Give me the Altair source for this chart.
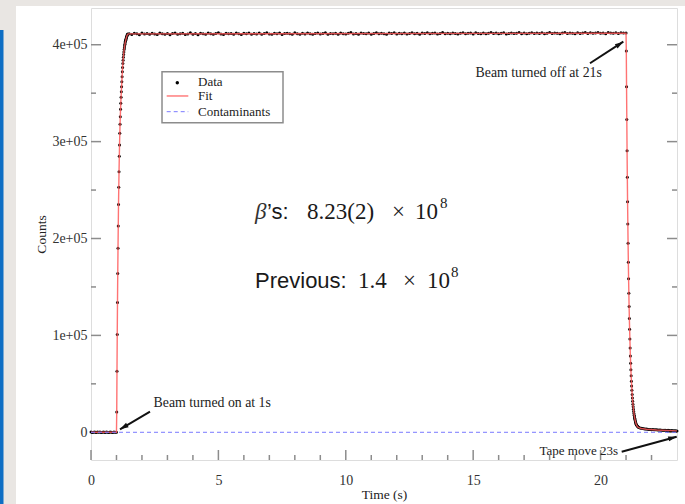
import altair as alt
import pandas as pd

# ---------------------------------------------------------------
# Counts per time bin for one beam-on / beam-off cycle
# ---------------------------------------------------------------
base_time = [0.0, 0.05, 0.1, 0.15, 0.2, 0.25, 0.3, 0.35, 0.4, 0.45, 0.5,
             0.55, 0.6, 0.65, 0.7, 0.75, 0.8, 0.85, 0.9, 0.95, 1.0]
base_counts = [300, -200, 100, 400, -100, 200, 0, 300, -300, 100, 200,
               -100, 400, 0, -200, 300, 100, -100, 200, 0, 100]

rise_time = [1.01, 1.02, 1.03, 1.04, 1.05, 1.06, 1.07, 1.08, 1.09, 1.10,
             1.11, 1.12, 1.13, 1.14, 1.15, 1.16, 1.17, 1.18, 1.19, 1.20,
             1.21, 1.22, 1.23, 1.24, 1.25, 1.26, 1.27, 1.28, 1.29, 1.30,
             1.31, 1.32, 1.33, 1.34, 1.35, 1.36, 1.37, 1.38, 1.39, 1.40,
             1.41, 1.42, 1.43, 1.44]
rise_counts = [21000, 63000, 101000, 134000, 164000, 190000, 213000, 235000, 253000, 269000,
               285000, 296500, 308600, 318000, 325700, 333300, 339500, 345700, 351500, 356700,
               361800, 367000, 372000, 376500, 380500, 384000, 387000, 390000, 392500, 395000,
               397000, 399000, 400500, 402000, 403500, 404500, 405500, 406500, 407500, 408500,
               409000, 410000, 410500, 411000]

plateau_time = [1.5, 1.6, 1.7, 1.8, 1.9, 2.0, 2.1, 2.2, 2.3, 2.4,
                2.5, 2.6, 2.7, 2.8, 2.9, 3.0, 3.1, 3.2, 3.3, 3.4,
                3.5, 3.6, 3.7, 3.8, 3.9, 4.0, 4.1, 4.2, 4.3, 4.4,
                4.5, 4.6, 4.7, 4.8, 4.9, 5.0, 5.1, 5.2, 5.3, 5.4,
                5.5, 5.6, 5.7, 5.8, 5.9, 6.0, 6.1, 6.2, 6.3, 6.4,
                6.5, 6.6, 6.7, 6.8, 6.9, 7.0, 7.1, 7.2, 7.3, 7.4,
                7.5, 7.6, 7.7, 7.8, 7.9, 8.0, 8.1, 8.2, 8.3, 8.4,
                8.5, 8.6, 8.7, 8.8, 8.9, 9.0, 9.1, 9.2, 9.3, 9.4,
                9.5, 9.6, 9.7, 9.8, 9.9, 10.0, 10.1, 10.2, 10.3, 10.4,
                10.5, 10.6, 10.7, 10.8, 10.9, 11.0, 11.1, 11.2, 11.3, 11.4,
                11.5, 11.6, 11.7, 11.8, 11.9, 12.0, 12.1, 12.2, 12.3, 12.4,
                12.5, 12.6, 12.7, 12.8, 12.9, 13.0, 13.1, 13.2, 13.3, 13.4,
                13.5, 13.6, 13.7, 13.8, 13.9, 14.0, 14.1, 14.2, 14.3, 14.4,
                14.5, 14.6, 14.7, 14.8, 14.9, 15.0, 15.1, 15.2, 15.3, 15.4,
                15.5, 15.6, 15.7, 15.8, 15.9, 16.0, 16.1, 16.2, 16.3, 16.4,
                16.5, 16.6, 16.7, 16.8, 16.9, 17.0, 17.1, 17.2, 17.3, 17.4,
                17.5, 17.6, 17.7, 17.8, 17.9, 18.0, 18.1, 18.2, 18.3, 18.4,
                18.5, 18.6, 18.7, 18.8, 18.9, 19.0, 19.1, 19.2, 19.3, 19.4,
                19.5, 19.6, 19.7, 19.8, 19.9, 20.0, 20.1, 20.2, 20.3, 20.4,
                20.5, 20.6, 20.7, 20.8, 20.9]
plateau_counts = [411300, 410600, 411900, 411200, 410400, 412100, 411000, 411600, 410700, 411800,
                  411100, 410500, 412000, 411400, 410900, 411700, 410300, 411500, 412200, 410800,
                  411300, 411900, 410600, 411100, 412300, 410900, 411500, 410400, 411800, 411200,
                  410700, 412000, 411400, 410900, 411600, 412400, 411000, 410500, 411900, 411300,
                  411700, 410800, 412100, 411200, 410600, 411800, 411400, 412200, 410900, 411500,
                  411100, 412000, 410700, 411600, 412300, 411000, 410800, 411900, 411300, 412100,
                  410600, 411500, 411900, 411200, 410900, 412400, 411400, 410700, 411800, 411100,
                  412000, 411300, 410800, 411700, 412200, 411000, 411500, 412300, 410900, 411600,
                  411200, 411900, 410700, 412100, 411400, 411000, 411800, 412500, 411100, 411600,
                  410900, 412200, 411500, 411300, 412000, 410800, 411700, 412300, 411200, 411900,
                  411400, 410900, 412100, 411600, 412400, 411100, 411800, 411300, 412200, 411000,
                  411700, 412300, 411200, 411900, 410900, 412000, 411500, 412400, 411300, 411800,
                  412100, 411000, 411600, 412500, 411400, 411900, 411200, 412200, 411700, 411100,
                  411800, 412400, 411300, 411900, 412100, 411000, 412300, 411600, 411400, 412000,
                  411200, 411800, 412500, 411500, 412100, 411300, 411900, 412400, 411100, 411700,
                  412200, 411600, 411900, 412600, 411400, 412000, 411200, 411800, 412300, 411500,
                  412100, 411700, 412400, 411300, 411900, 412600, 411500, 412200, 411800, 411400,
                  412000, 412500, 411600, 412200, 411900, 411300, 412400, 411700, 412100, 412700,
                  411500, 412300, 411900, 412000, 412600, 411800, 412200, 411400, 412500, 412100,
                  411900, 412400, 411700, 412300, 412000]

fall_time = [21.0, 21.01, 21.02, 21.03, 21.04, 21.05, 21.06, 21.07, 21.08, 21.09,
             21.10, 21.11, 21.12, 21.13, 21.14, 21.15, 21.16, 21.17, 21.18, 21.19,
             21.20, 21.21, 21.22, 21.23, 21.24, 21.25, 21.26, 21.27, 21.28, 21.29,
             21.30, 21.31, 21.32, 21.33, 21.34, 21.35, 21.36, 21.37, 21.38, 21.39,
             21.40]
fall_counts = [412000, 393500, 356700, 322800, 290600, 263200, 238000, 215000, 195000, 175400,
               158500, 143400, 129800, 117400, 106300, 96200, 87000, 78800, 71300, 64500,
               58400, 52800, 47800, 43300, 39100, 35400, 32100, 29000, 26300, 23800,
               21500, 19500, 17600, 16000, 14500, 13100, 11900, 10800, 9800, 8900,
               8100]

tail_time = [21.42, 21.44, 21.46, 21.48, 21.5, 21.55, 21.6, 21.65, 21.7, 21.75,
             21.8, 21.85, 21.9, 21.95, 22.0, 22.05, 22.1, 22.15, 22.2, 22.25,
             22.3, 22.35, 22.4, 22.45, 22.5, 22.55, 22.6, 22.65, 22.7, 22.75,
             22.8, 22.85, 22.9, 22.95, 23.0]
tail_counts = [7200, 6500, 5900, 5400, 5000, 4500, 4100, 3900, 3600, 3400,
               3300, 3100, 3000, 2900, 2700, 2800, 2600, 2500, 2600, 2400,
               2300, 2400, 2200, 2100, 2200, 2000, 1900, 2000, 1800, 1700,
               1800, 1600, 1500, 1600, 1400]

# Fitted activity curve
fit_time = [0.0, 1.0, 1.01, 1.02, 1.03, 1.04, 1.05, 1.06, 1.08, 1.10,
            1.12, 1.14, 1.16, 1.18, 1.20, 1.23, 1.26, 1.30, 1.34, 1.38,
            1.42, 1.46, 21.0, 21.01, 21.02, 21.03, 21.04, 21.06, 21.08, 21.10,
            21.12, 21.14, 21.17, 21.20, 21.24, 21.28, 21.32, 21.36, 21.40, 21.45,
            21.5, 21.6, 21.8, 22.2, 23.0]
fit_counts = [0, 0, 21000, 63000, 101000, 134000, 164000, 190000, 235000, 269000,
              296500, 318000, 333300, 345700, 356700, 372000, 384000, 395000, 402000, 406500,
              410000, 411200, 411900, 393500, 356700, 322800, 290600, 238000, 195000, 158500,
              129800, 106300, 78800, 58400, 39100, 26300, 17600, 11900, 8100, 5700,
              4800, 3900, 3100, 2400, 1500]

# Contaminant component (flat at zero)
contam_time = [0.0, 23.0]
contam_counts = [0, 0]

# Axis tick values
x_major = [0, 5, 10, 15, 20]
x_minor = [1, 2, 3, 4, 6, 7, 8, 9, 11, 12, 13, 14, 16, 17, 18, 19, 21, 22]
y_major = [0, 100000, 200000, 300000, 400000]
y_minor = [50000, 150000, 250000, 350000]

# ---------------------------------------------------------------
# Layout and style
# ---------------------------------------------------------------
W, H = 586, 452
SERIF = "Liberation Serif"
SANS = "Liberation Sans"
FRAME = "#8c8c8c"
INK = "#222222"
XS = alt.Scale(domain=[0, 23], nice=False, zero=False)
YS = alt.Scale(domain=[-28600, 437900], nice=False, zero=False)

XAX = alt.Axis(values=x_major, title="Time (s)", ticks=False, domain=False, grid=False,
               labelFont=SERIF, labelFontSize=14, labelColor="#333333", labelPadding=13,
               labelFlush=False, labelOverlap=False,
               titleFont=SERIF, titleFontSize=13.5, titleFontWeight="normal", titleColor=INK,
               titleY=34, titleBaseline="middle")
YAX = alt.Axis(values=y_major, title="Counts", ticks=False, domain=False, grid=False,
               labelExpr="datum.value == 0 ? '0' : replace(format(datum.value, '.0e'), 'e+', 'e+0')",
               labelFont=SERIF, labelFontSize=14, labelColor="#333333", labelPadding=4,
               labelOverlap=False,
               titleFont=SERIF, titleFontSize=13.5, titleFontWeight="normal", titleColor=INK,
               titleAngle=270, titleX=-50, titleY=226, titleAlign="center",
               titleBaseline="middle")


def xq(field):
    return alt.X(field, type="quantitative", scale=XS, axis=XAX)


def yq(field):
    return alt.Y(field, type="quantitative", scale=YS, axis=YAX)


def segment(times, counts):
    return pd.DataFrame({"time": times, "counts": counts})


points = pd.concat([segment(base_time, base_counts),
                    segment(rise_time, rise_counts),
                    segment(plateau_time, plateau_counts),
                    segment(fall_time, fall_counts),
                    segment(tail_time, tail_counts)], ignore_index=True)
fit = segment(fit_time, fit_counts)
contam = segment(contam_time, contam_counts)
one = pd.DataFrame({"k": [0]})

# Slide backdrop outside the figure (gray margin and blue side bar)
backdrop = [
    alt.Chart(one).mark_rect(color="#e9e6e3").encode(
        x=alt.value(-91), x2=alt.value(-75), y=alt.value(-8), y2=alt.value(496)),
    alt.Chart(one).mark_rect(color="#e9e6e3").encode(
        x=alt.value(-91), x2=alt.value(594), y=alt.value(-8), y2=alt.value(-2)),
    alt.Chart(one).mark_rect(color="#0e6ec4").encode(
        x=alt.value(-91), x2=alt.value(-87.5), y=alt.value(22), y2=alt.value(496)),
]


# Inward-pointing ticks on bottom, left and right edges
def xticks(vals, length):
    return alt.Chart(pd.DataFrame({"v": vals})).mark_rule(color=FRAME, strokeWidth=1.5).encode(
        x=xq("v"), y=alt.value(H), y2=alt.value(H - length))


def yticks(vals, x0, x1):
    return alt.Chart(pd.DataFrame({"v": vals})).mark_rule(color=FRAME, strokeWidth=1.5).encode(
        y=yq("v"), x=alt.value(x0), x2=alt.value(x1))


ticks = [xticks(x_major, 10), xticks(x_minor, 5),
         yticks(y_major, 0, 10), yticks(y_minor, 0, 5),
         yticks(y_major, W, W - 10), yticks(y_minor, W, W - 5)]

# Data series
dots = alt.Chart(points).mark_circle(size=9, color="#000000", opacity=1).encode(
    x=xq("time"), y=yq("counts"))
fit_line = alt.Chart(fit).mark_line(color="#ff5a5a", strokeWidth=1.4, opacity=0.85).encode(
    x=xq("time"), y=yq("counts"))
contam_line = alt.Chart(contam).mark_line(color="#7a7aff", strokeWidth=1, strokeDash=[4, 3]).encode(
    x=xq("time"), y=yq("counts"))

# Legend box
legend_box = pd.DataFrame({"t1": [2.787], "t2": [7.536], "c1": [372180], "c2": [319540]})
legend_dot = pd.DataFrame({"t": [3.387], "c": [360830]})
legend_red = pd.DataFrame({"t1": [2.971], "t2": [3.819], "c": [347100]})
legend_blue = pd.DataFrame({"t1": [2.971], "t2": [3.819], "c": [330890]})
legend_text = pd.DataFrame({"text": ["Data", "Fit", "Contaminants"],
                            "t": [4.2, 4.2, 4.2],
                            "c": [361300, 347100, 330390]})
legend = [
    alt.Chart(legend_box).mark_rect(fill="white", stroke=FRAME, strokeWidth=1.5).encode(
        x=xq("t1"), x2="t2", y=yq("c1"), y2="c2"),
    alt.Chart(legend_dot).mark_circle(size=12, color="#000000", opacity=1).encode(
        x=xq("t"), y=yq("c")),
    alt.Chart(legend_red).mark_rule(color="#ff5a5a", strokeWidth=1.4, opacity=0.85).encode(
        x=xq("t1"), x2="t2", y=yq("c")),
    alt.Chart(legend_blue).mark_rule(color="#7a7aff", strokeWidth=1, strokeDash=[4, 3]).encode(
        x=xq("t1"), x2="t2", y=yq("c")),
    alt.Chart(legend_text).mark_text(font=SERIF, fontSize=13, align="left",
                                     baseline="middle", color=INK).encode(
        x=xq("t"), y=yq("c"), text="text:N"),
]

# Annotations with arrows
notes_mid = pd.DataFrame({"text": ["Beam turned on at 1s", "Beam turned off at 21s"],
                          "t": [4.757, 17.572],
                          "c": [30240, 370840]})
notes_right = pd.DataFrame({"text": ["Tape move 23s"], "t": [20.685], "c": [-19300]})
arrows = pd.DataFrame({"t1": [2.316, 19.585, 20.829], "c1": [21260, 380850, -20020],
                       "t2": [1.138, 20.893, 22.988], "c2": [3100, 403140, -4540],
                       "ang": [239.6, 56.9, 74.7]})
HEAD = "M0,0L0.65,2.2L-0.65,2.2Z"
annotations = [
    alt.Chart(notes_mid).mark_text(font=SERIF, fontSize=13.8, align="center",
                                   baseline="middle", color=INK).encode(
        x=xq("t"), y=yq("c"), text="text:N"),
    alt.Chart(notes_right).mark_text(font=SERIF, fontSize=13, align="right",
                                     baseline="middle", color=INK).encode(
        x=xq("t"), y=yq("c"), text="text:N"),
    alt.Chart(arrows).mark_rule(color="#111111", strokeWidth=2).encode(
        x=xq("t1"), y=yq("c1"), x2="t2", y2="c2"),
    alt.Chart(arrows).mark_point(shape=HEAD, size=60, filled=True, color="#111111",
                                 opacity=1).encode(
        x=xq("t2"), y=yq("c2"), angle=alt.Angle("ang:Q", scale=None)),
]

# Rate results written on the plot
serif_parts = pd.DataFrame({"text": ["8.23(2)", "\u00d7", "10", "1.4", "\u00d7", "10"],
                            "t": [8.478, 11.814, 12.717, 10.480, 12.246, 13.188],
                            "c": [220140, 220140, 220140, 148940, 148940, 148940]})
sup_parts = pd.DataFrame({"text": ["8", "8"], "t": [13.698, 14.13], "c": [231500, 160290]})
sans_parts = pd.DataFrame({"text": ["\u2019s:", "Previous:"], "t": [6.908, 6.437],
                           "c": [220140, 148940]})
beta_part = pd.DataFrame({"text": ["\u03b2"], "t": [6.437], "c": [220140]})
results = [
    alt.Chart(serif_parts).mark_text(font=SERIF, fontSize=23, align="left",
                                     baseline="alphabetic", color="#1a1a1a").encode(
        x=xq("t"), y=yq("c"), text="text:N"),
    alt.Chart(sup_parts).mark_text(font=SERIF, fontSize=15, align="left",
                                   baseline="alphabetic", color="#1a1a1a").encode(
        x=xq("t"), y=yq("c"), text="text:N"),
    alt.Chart(sans_parts).mark_text(font=SANS, fontSize=22, align="left",
                                    baseline="alphabetic", color="#1a1a1a").encode(
        x=xq("t"), y=yq("c"), text="text:N"),
    alt.Chart(beta_part).mark_text(font=SERIF, fontSize=23, fontStyle="italic", align="left",
                                   baseline="alphabetic", color="#333333").encode(
        x=xq("t"), y=yq("c"), text="text:N"),
]

chart = alt.layer(
    *backdrop, *ticks, dots, fit_line, contam_line, *legend, *annotations, *results
).properties(
    width=W, height=H,
    padding={"left": 91, "top": 8, "right": 8, "bottom": 44},
    autosize=alt.AutoSizeParams(type="none"),
).configure_view(
    stroke=FRAME, strokeWidth=1.5, fill="white"
).configure(background="white")

chart.save("out.html", embed_options={"renderer": "svg", "actions": False})
